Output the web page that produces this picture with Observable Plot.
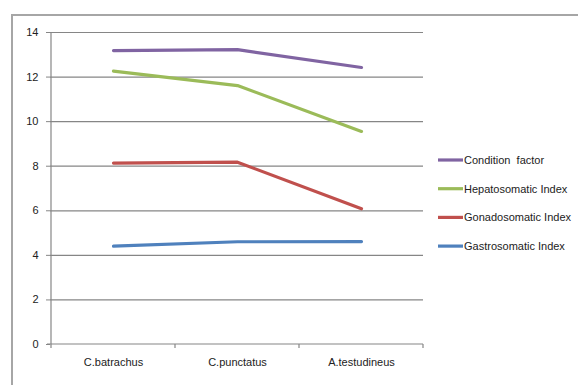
<!DOCTYPE html>
<html>
<head>
<meta charset="utf-8">
<script src="https://cdn.jsdelivr.net/npm/d3@7"></script>
<script src="https://cdn.jsdelivr.net/npm/@observablehq/plot@0.6"></script>
<style>
  html, body { margin: 0; padding: 0; background: #fff; }
  #wrap { position: relative; width: 578px; height: 385px; overflow: hidden; }
  #frame { position: absolute; left: 11px; top: 14px; right: -4px; bottom: -4px;
           border-top: 2px solid #a6a6a6; border-left: 2px solid #a6a6a6; }
  #chart { position: absolute; left: 0; top: 0; }
  svg { font-family: "Liberation Sans Narrow", "Arial Narrow", "Liberation Sans", sans-serif; }
</style>
</head>
<body>
<div id="wrap"><div id="frame"></div><div id="chart"></div></div>
<script>
// Species along the x axis
const species = ["C.batrachus", "C.punctatus", "A.testudineus"];
// Series names, in legend order
const seriesNames = ["Condition  factor", "Hepatosomatic Index", "Gonadosomatic Index", "Gastrosomatic Index"];
const seriesColors = ["#8064A2", "#9BBB59", "#C0504D", "#4F81BD"];
// Values per series, one per species
const conditionFactor = [13.19, 13.23, 12.43];
const hepatosomatic = [12.27, 11.62, 9.56];
const gonadosomatic = [8.14, 8.18, 6.09];
const gastrosomatic = [4.41, 4.61, 4.62];
const yTicks = [0, 2, 4, 6, 8, 10, 12, 14];

const seriesValues = [conditionFactor, hepatosomatic, gonadosomatic, gastrosomatic];
const rows = seriesNames.flatMap((name, i) =>
  species.map((s, j) => ({series: name, species: s, value: seriesValues[i][j]})));

const font = '"Liberation Sans Narrow", "Arial Narrow", "Liberation Sans", sans-serif';
const fontSize = 11;

const plot = Plot.plot({
  width: 578,
  height: 385,
  marginLeft: 50,
  marginRight: 155,
  marginTop: 32,
  marginBottom: 41,
  style: {fontFamily: font, fontSize: fontSize + "px", color: "#222", background: "transparent"},
  x: {type: "band", domain: species, padding: 0, label: null},
  y: {domain: [0, 14], label: null},
  color: {domain: seriesNames, range: seriesColors},
  marks: [
    Plot.ruleY(yTicks.filter(d => d > 0), {stroke: "#868686", strokeWidth: 1.2}),
    Plot.axisY({ticks: yTicks, tickSize: 4, tickPadding: 8, stroke: "#868686", fontSize, label: null, tickFormat: d => d}),
    Plot.axisX({tickSize: 0, tickPadding: 14, fontSize, label: null}),
    Plot.line(rows, {x: "species", y: "value", z: "series", stroke: "series", strokeWidth: 3.2, strokeLinecap: "round"})
  ]
});

document.getElementById("chart").appendChild(plot);

// Axis lines and tick marks at category boundaries, using the plot's own scales
const svg = d3.select(plot);
const xs = plot.scale("x");
const ys = plot.scale("y");
const bw = xs.bandwidth;
const y0 = ys.apply(0), yTop = ys.apply(14);
const xL = xs.apply(species[0]);
const xR = xs.apply(species[species.length - 1]) + bw;
const g = svg.append("g").attr("stroke", "#868686").attr("stroke-width", 1.2);
g.append("line").attr("x1", xL).attr("x2", xL).attr("y1", yTop).attr("y2", y0);
g.append("line").attr("x1", xL - 4).attr("x2", xR).attr("y1", y0).attr("y2", y0);
const bounds = species.map(s => xs.apply(s)).concat([xR]);
bounds.forEach(x => g.append("line").attr("x1", x).attr("x2", x).attr("y1", y0).attr("y2", y0 + 4));

// Legend
const lg = svg.append("g").attr("font-family", font).attr("font-size", fontSize).attr("text-anchor", "start");
seriesNames.forEach((name, i) => {
  const yy = 160 + i * 28.7;
  lg.append("line").attr("x1", 438).attr("x2", 463).attr("y1", yy).attr("y2", yy)
    .attr("stroke", seriesColors[i]).attr("stroke-width", 3.2);
  lg.append("text").attr("x", 464).attr("y", yy).attr("dy", "0.35em")
    .attr("fill", "#222").style("white-space", "pre").text(name);
});
</script>
</body>
</html>
